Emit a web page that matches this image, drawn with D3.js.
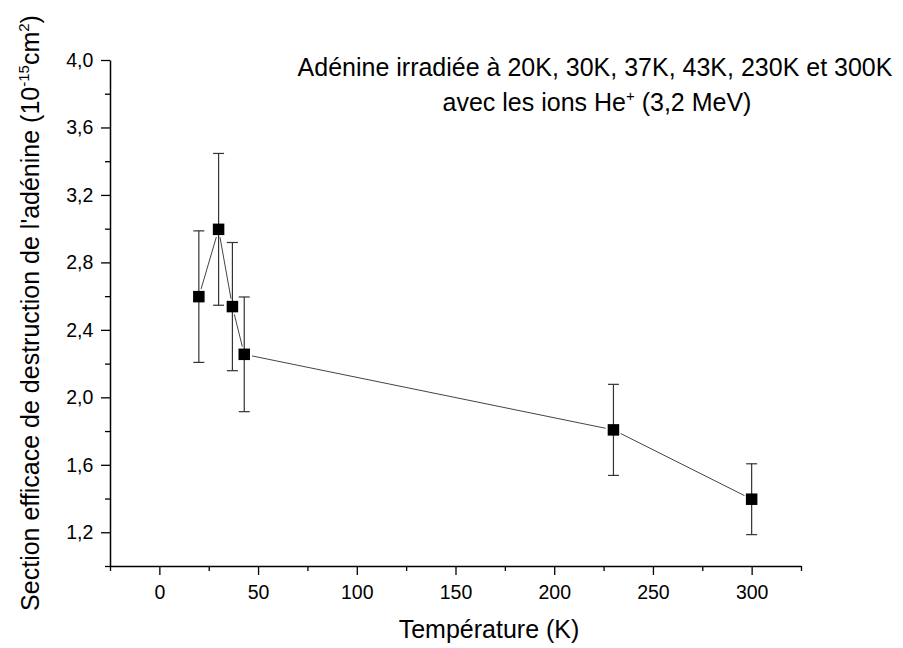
<!DOCTYPE html>
<html>
<head>
<meta charset="utf-8">
<script src="https://cdn.jsdelivr.net/npm/d3@7"></script>
<style>
  html, body { margin: 0; padding: 0; background: #fff; }
  svg { display: block; font-family: "Liberation Sans", Arial, sans-serif; }
</style>
</head>
<body>
<svg id="chart" width="903" height="648"></svg>
<script>
// ---- data ----
const temperatures = [20, 30, 37, 43, 230, 300];
const crossSections = [2.597, 2.996, 2.538, 2.255, 1.807, 1.396];
const errors = [0.39, 0.45, 0.38, 0.34, 0.27, 0.21];
const xMajorTicks = [0, 50, 100, 150, 200, 250, 300];
const xMinorTicks = [-25, 25, 75, 125, 175, 225, 275, 325];
const yMajorTicks = [1.2, 1.6, 2.0, 2.4, 2.8, 3.2, 3.6, 4.0];
const yMinorTicks = [1.0, 1.4, 1.8, 2.2, 2.6, 3.0, 3.4, 3.8];
const titleLine1 = "Adénine irradiée à 20K, 30K, 37K, 43K, 230K et 300K";
const xTitle = "Température (K)";

const svg = d3.select("#chart");
const L = 110, R = 801, T = 60, B = 566;
const x = d3.scaleLinear().domain([-25, 325]).range([L, R]);
const y = d3.scaleLinear().domain([1.0, 4.0]).range([B, T]);
const fmt = d => d3.format(".1f")(d).replace(".", ",");

// minor ticks
svg.append("g").attr("transform", `translate(0,${B})`)
  .call(d3.axisBottom(x).tickValues(xMinorTicks).tickSize(5).tickFormat(""))
  .call(g => g.select(".domain").remove());
svg.append("g").attr("transform", `translate(${L},0)`)
  .call(d3.axisLeft(y).tickValues(yMinorTicks).tickSize(5).tickFormat(""))
  .call(g => g.select(".domain").remove());

// major axes
const xAxis = svg.append("g").attr("transform", `translate(0,${B})`)
  .call(d3.axisBottom(x).tickValues(xMajorTicks).tickSize(9).tickSizeOuter(0).tickPadding(10.5));
const yAxis = svg.append("g").attr("transform", `translate(${L},0)`)
  .call(d3.axisLeft(y).tickValues(yMajorTicks).tickSize(9).tickSizeOuter(0).tickPadding(7.7).tickFormat(fmt));
[xAxis, yAxis].forEach(a => {
  a.selectAll("text").attr("font-size", 19.5).attr("fill", "#000").attr("font-family", "Liberation Sans, Arial, sans-serif");
  a.select(".domain").attr("stroke", "#000").attr("stroke-width", 1.5);
});
svg.selectAll("g line").attr("stroke", "#000").attr("stroke-width", 1.3);

const pts = temperatures.map((t, i) => ({ t, v: crossSections[i], e: errors[i] }));

// connecting line, with small gaps around markers
const gap = 8;
for (let i = 0; i < pts.length - 1; i++) {
  const x1 = x(pts[i].t), y1 = y(pts[i].v), x2 = x(pts[i + 1].t), y2 = y(pts[i + 1].v);
  const dx = x2 - x1, dy = y2 - y1, len = Math.hypot(dx, dy);
  if (len <= 2 * gap) continue;
  const ux = dx / len, uy = dy / len;
  svg.append("line")
    .attr("x1", x1 + ux * gap).attr("y1", y1 + uy * gap)
    .attr("x2", x2 - ux * gap).attr("y2", y2 - uy * gap)
    .attr("stroke", "#444").attr("stroke-width", 1);
}

// error bars
const eb = svg.append("g").attr("stroke", "#333").attr("stroke-width", 1.2);
pts.forEach(p => {
  eb.append("line").attr("x1", x(p.t)).attr("x2", x(p.t)).attr("y1", y(p.v - p.e)).attr("y2", y(p.v + p.e));
  [p.v - p.e, p.v + p.e].forEach(vv => {
    eb.append("line").attr("x1", x(p.t) - 5.5).attr("x2", x(p.t) + 5.5).attr("y1", y(vv)).attr("y2", y(vv));
  });
});

// markers
const ms = 11.5;
svg.append("g").selectAll("rect").data(pts).join("rect")
  .attr("x", d => x(d.t) - ms / 2).attr("y", d => y(d.v) - ms / 2)
  .attr("width", ms).attr("height", ms).attr("fill", "#000");

// axis titles
svg.append("text").attr("x", 489).attr("y", 638).attr("text-anchor", "middle")
  .attr("font-size", 25).attr("fill", "#000").text(xTitle);

const yt = svg.append("text").attr("transform", "translate(39,313) rotate(-90)")
  .attr("text-anchor", "middle").attr("font-size", 25).attr("fill", "#000");
yt.append("tspan").text("Section efficace de destruction de l'adénine (10");
yt.append("tspan").attr("font-size", 15).attr("dy", -10).text("-15");
yt.append("tspan").attr("dy", 10).text("cm");
yt.append("tspan").attr("font-size", 15).attr("dy", -10).text("2");
yt.append("tspan").attr("dy", 10).text(")");

// chart title
svg.append("text").attr("x", 595).attr("y", 76).attr("text-anchor", "middle")
  .attr("font-size", 25).attr("fill", "#000").text(titleLine1);
const t2 = svg.append("text").attr("x", 597).attr("y", 111).attr("text-anchor", "middle")
  .attr("font-size", 25).attr("fill", "#000");
t2.append("tspan").text("avec les ions He");
t2.append("tspan").attr("font-size", 15).attr("dy", -10).text("+");
t2.append("tspan").attr("dy", 10).text(" (3,2 MeV)");
</script>
</body>
</html>
